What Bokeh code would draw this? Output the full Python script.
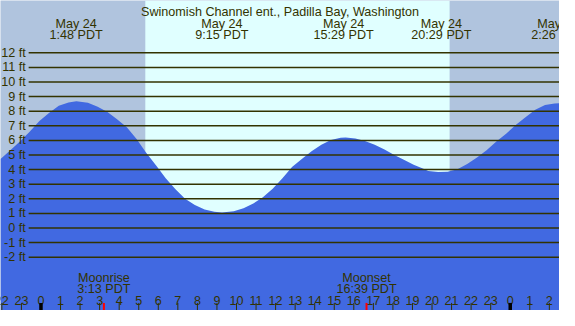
from bokeh.plotting import figure
from bokeh.models import Range1d
from bokeh.core.properties import value
from bokeh.embed import file_html
from bokeh.resources import INLINE

# ---- data (hours relative to May 24 00:00 PDT, heights in ft) ----
tide_hours = [-2.07, -1.58, -1.08, -0.58, -0.08, 0.41, 0.91, 1.41, 1.81, 2.40,
              2.90, 3.40, 3.89, 4.39, 4.89, 5.38, 5.88, 6.38, 6.88, 7.37,
              7.87, 8.37, 8.87, 9.26, 9.86, 10.36, 10.86, 11.35, 11.85, 12.35,
              12.84, 13.34, 13.84, 14.34, 14.83, 15.33, 15.58, 16.08, 16.57, 17.07,
              17.57, 18.07, 18.56, 19.06, 19.56, 19.81, 20.31, 20.80, 21.30, 21.80,
              22.30, 22.79, 23.29, 23.79, 24.28, 24.78, 25.28, 25.78, 26.27, 26.52]
tide_ft = [4.72, 5.30, 5.92, 6.60, 7.33, 7.87, 8.37, 8.59, 8.68, 8.57,
           8.30, 7.94, 7.44, 6.90, 6.10, 5.15, 4.29, 3.41, 2.65, 2.00,
           1.57, 1.26, 1.11, 1.06, 1.15, 1.35, 1.68, 2.10, 2.69, 3.41,
           4.17, 4.72, 5.26, 5.70, 6.02, 6.18, 6.20, 6.13, 5.96, 5.70,
           5.37, 5.00, 4.68, 4.33, 4.06, 3.91, 3.83, 3.85, 4.02, 4.39,
           4.83, 5.33, 5.92, 6.46, 7.05, 7.59, 8.09, 8.42, 8.53, 8.55]

extreme_hours = [1.80, 9.25, 15.483, 20.483, 26.433]
extreme_dates = ["May 24", "May 24", "May 24", "May 24", "May 24"]
extreme_times = ["1:48 PDT", "9:15 PDT", "15:29 PDT", "20:29 PDT", "2:26 PDT"]

sunrise_hour = 5.336
sunset_hour = 20.90

moon_hours = [3.217, 16.65]
moon_events = ["Moonrise", "Moonset"]
moon_times = ["3:13 PDT", "16:39 PDT"]

ft_levels = list(range(-2, 13))
ft_labels = [f"{v} ft" for v in ft_levels]

hour_ticks = list(range(-2, 27))
hour_labels = [str(h % 24) for h in hour_ticks]

title = "Swinomish Channel ent., Padilla Bay, Washington"

# ---- styling ----
X0, X1 = -2.07, 26.52
Y0, Y1 = -5.65, 15.58
NIGHT = "#b0c4de"
DAY = "#e0ffff"
WATER = "#4169e1"
INK = "#333300"
FONT = value("Liberation Sans")
FS = "12.6px"

p = figure(width=559, height=310, output_backend="svg", toolbar_location=None,
           x_range=Range1d(X0, X1), y_range=Range1d(Y0, Y1),
           x_axis_type=None, y_axis_type=None, min_border=0,
           background_fill_color=NIGHT, border_fill_color=NIGHT)
p.outline_line_color = None
p.xgrid.visible = False
p.ygrid.visible = False

# daylight band
p.quad(left=[sunrise_hour], right=[sunset_hour], bottom=[Y0], top=[Y1],
       fill_color=DAY, line_color=None)

# tide
p.varea(x=tide_hours, y1=[Y0] * len(tide_hours), y2=tide_ft, fill_color=WATER)

# ft lines + labels
line_x0 = -0.63
p.segment(x0=[line_x0] * len(ft_levels), x1=[X1] * len(ft_levels),
          y0=ft_levels, y1=ft_levels, line_color=INK, line_width=1.5)
p.text(x=[-0.78] * len(ft_levels), y=ft_levels, text=ft_labels,
       text_align="right", text_baseline="middle", text_color=INK,
       text_font=FONT, text_font_size=FS)

# title
p.text(x=[(X0 + X1) / 2], y=[14.82], text=[title], text_align="center",
       text_baseline="alphabetic", text_color=INK, text_font=FONT, text_font_size=FS)

# extreme labels
p.text(x=extreme_hours, y=[13.95] * 5, text=extreme_dates, text_align="center",
       text_baseline="alphabetic", text_color=INK, text_font=FONT, text_font_size=FS)
p.text(x=extreme_hours, y=[13.23] * 5, text=extreme_times, text_align="center",
       text_baseline="alphabetic", text_color=INK, text_font=FONT, text_font_size=FS)

# moon labels
p.text(x=moon_hours, y=[-3.40] * 2, text=moon_events, text_align="center",
       text_baseline="alphabetic", text_color=INK, text_font=FONT, text_font_size=FS)
p.text(x=moon_hours, y=[-4.17] * 2, text=moon_times, text_align="center",
       text_baseline="alphabetic", text_color=INK, text_font=FONT, text_font_size=FS)

# hour ticks and labels
p.text(x=hour_ticks, y=[-4.97] * len(hour_ticks), text=hour_labels,
       text_align="center", text_baseline="alphabetic", text_color=INK,
       text_font=FONT, text_font_size=FS)
thin = [h for h in hour_ticks if h % 24 != 0]
thick = [h for h in hour_ticks if h % 24 == 0]
p.segment(x0=thin, x1=thin, y0=[-5.13] * len(thin), y1=[Y0] * len(thin),
          line_color=INK, line_width=1)
p.segment(x0=thick, x1=thick, y0=[-5.13] * len(thick), y1=[Y0] * len(thick),
          line_color="black", line_width=3.5)
p.segment(x0=moon_hours, x1=moon_hours, y0=[-5.13] * 2, y1=[Y0] * 2,
          line_color="red", line_width=2)

open("out.html", "w").write(file_html(p, INLINE))
